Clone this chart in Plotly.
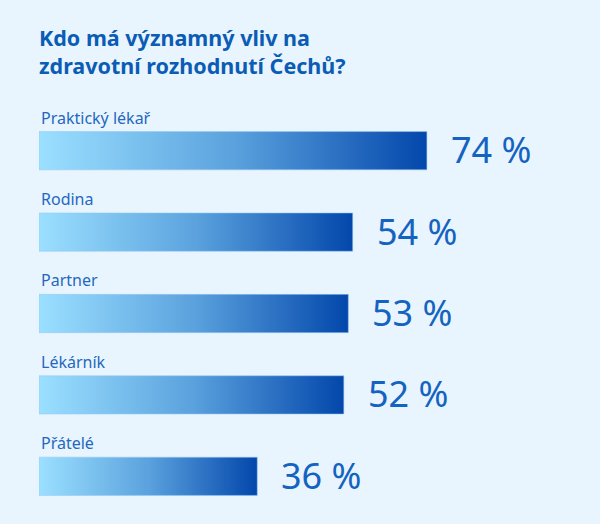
import numpy as np
import plotly.graph_objects as go

# ---- data ----
categories = ["Praktický lékař", "Rodina", "Partner", "Lékárník", "Přátelé"]
values = [74, 54, 53, 52, 36]
value_labels = ["74 %", "54 %", "53 %", "52 %", "36 %"]
title_text = "Kdo má významný vliv na<br>zdravotní rozhodnutí Čechů?"

# ---- style ----
BG = "#E9F5FE"
TITLE_C = "#0B5CB5"
LABEL_C = "#2468BE"
VALUE_C = "#1463C0"
FONT = "Noto Sans"
GRAD = [[0.0, "#9BE0FF"], [0.5, "#5BA2DE"], [1.0, "#0347AB"]]

X_LO, X_HI = 1.1538, 2.1165   # log10 axis range
HALF = 0.235                   # half bar thickness (category units)

fig = go.Figure()
x0 = 10 ** X_LO
for i, (cat, v) in enumerate(zip(categories, values)):
    fig.add_trace(go.Scatter(
        x=[x0, v, v, x0, x0],
        y=[i - HALF, i - HALF, i + HALF, i + HALF, i - HALF],
        mode="lines",
        fill="toself",
        fillgradient=dict(type="horizontal", colorscale=GRAD),
        line=dict(width=1, color="rgba(150,200,245,0.55)"),
        hoverinfo="skip",
        showlegend=False,
    ))
    fig.add_annotation(
        x=0, xref="paper", y=i - HALF, yref="y",
        text=cat, showarrow=False, xanchor="left", yanchor="bottom",
        yshift=1, font=dict(family=FONT, size=16, color=LABEL_C),
    )
    fig.add_annotation(
        x=np.log10(v), xref="x", y=i, yref="y",
        text=value_labels[i], showarrow=False, xanchor="left", yanchor="middle",
        xshift=22, yshift=1, font=dict(family=FONT, size=36, color=VALUE_C),
    )

fig.update_layout(
    width=600, height=524,
    paper_bgcolor=BG, plot_bgcolor=BG,
    margin=dict(l=39, r=39, t=110, b=7),
    title=dict(
        text="<b>" + title_text + "</b>",
        x=39 / 600, xref="container", xanchor="left",
        y=1 - 46 / 524, yref="container", yanchor="top",
        font=dict(family=FONT, size=21.5, color=TITLE_C),
    ),
    xaxis=dict(type="log", range=[X_LO, X_HI], visible=False, fixedrange=True),
    yaxis=dict(range=[4.5, -0.5], visible=False, fixedrange=True),
    showlegend=False,
)

fig.write_html(
    "out.html",
    config={"displayModeBar": False},
    post_script="document.body.style.margin='0';document.body.style.background='" + BG + "';",
)
